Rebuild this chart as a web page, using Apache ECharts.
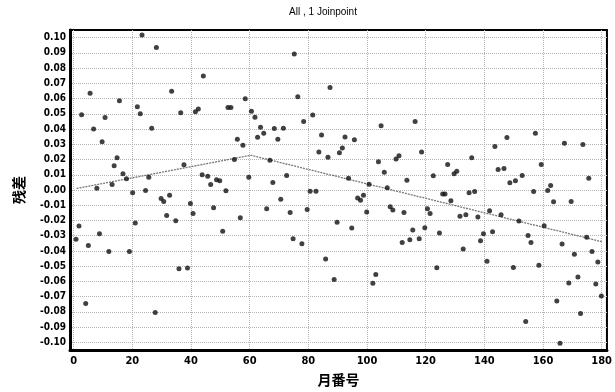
<!DOCTYPE html>
<html>
<head>
<meta charset="utf-8">
<script src="https://cdn.jsdelivr.net/npm/echarts@6/dist/echarts.min.js"></script>
<style>
  html, body { margin: 0; padding: 0; background: #fff; }
  #chart { width: 615px; height: 392px; }
</style>
</head>
<body>
<div id="chart"></div>
<script>
// residuals: [month, residual]
const residuals = [
  [0.8, -0.0324], [1.8, -0.0237], [2.7, 0.0494], [4.1, -0.0745], [5.0, -0.0365],
  [5.6, 0.0635], [6.8, 0.0401], [7.9, 0.0012], [8.8, -0.0287], [9.7, 0.0316],
  [10.7, 0.0476], [12.0, -0.0404], [13.1, 0.0036], [13.8, 0.0159], [14.8, 0.0212],
  [15.6, 0.0586], [16.8, 0.0107], [18.0, 0.0074], [19.0, -0.0404], [20.1, -0.0018],
  [21.0, -0.0216], [21.7, 0.0547], [22.7, 0.0501], [23.3, 0.1018], [24.5, -0.0004],
  [25.6, 0.0083], [26.6, 0.0406], [27.8, -0.0804], [28.2, 0.0935], [29.8, -0.0055],
  [30.7, -0.0075], [31.7, -0.0167], [32.7, -0.0034], [33.4, 0.0648], [34.8, -0.0202],
  [35.9, -0.0516], [36.5, 0.0507], [37.6, 0.0165], [38.8, -0.0512], [39.8, -0.0088],
  [40.7, -0.0154], [41.5, 0.0514], [42.5, 0.0532], [43.8, 0.0100], [44.2, 0.0748],
  [45.7, 0.0090], [46.7, 0.0036], [47.7, -0.0117], [48.7, 0.0067], [49.8, 0.0060],
  [50.8, -0.0270], [51.9, -0.0005], [52.6, 0.0541], [53.6, 0.0541], [54.8, 0.0200],
  [55.8, 0.0333], [56.8, -0.0182], [57.7, 0.0294], [58.5, 0.0599], [59.7, 0.0084],
  [60.6, 0.0516], [61.8, 0.0477], [62.7, 0.0346], [63.7, 0.0411], [64.8, 0.0372],
  [65.8, -0.0123], [66.9, 0.0195], [67.9, 0.0049], [68.4, 0.0403], [69.6, 0.0333],
  [70.6, -0.0060], [71.5, 0.0405], [72.6, 0.0095], [73.8, -0.0147], [74.8, -0.0320],
  [75.2, 0.0892], [76.4, 0.0612], [77.8, -0.0352], [78.4, 0.0449], [79.6, -0.0128],
  [80.6, -0.0008], [81.5, 0.0492], [82.6, -0.0008], [83.6, 0.0250], [84.5, 0.0361],
  [85.9, -0.0453], [86.7, 0.0215], [87.4, 0.0673], [88.8, -0.0588], [89.8, -0.0211],
  [90.6, 0.0244], [91.6, 0.0276], [92.5, 0.0348], [93.7, 0.0077], [94.8, -0.0250],
  [95.7, 0.0329], [96.8, -0.0053], [97.8, -0.0067], [98.8, -0.0034], [99.9, -0.0145],
  [100.7, 0.0038], [102.0, -0.0612], [103.0, -0.0555], [103.9, 0.0185], [104.8, 0.0422],
  [105.9, 0.0117], [106.9, 0.0014], [107.9, -0.0110], [108.8, -0.0132], [109.9, 0.0204],
  [110.9, 0.0224], [112.0, -0.0345], [112.6, -0.0147], [113.6, 0.0064], [114.6, -0.0326],
  [115.6, -0.0263], [116.4, 0.0449], [117.8, -0.0320], [118.6, 0.0250], [119.7, -0.0248],
  [120.6, -0.0123], [121.5, -0.0154], [122.6, 0.0093], [123.8, -0.0510], [124.7, -0.0283],
  [125.8, -0.0027], [126.6, -0.0027], [127.5, 0.0167], [128.6, -0.0071], [129.7, 0.0106],
  [130.6, 0.0123], [131.7, -0.0172], [132.8, -0.0388], [133.7, -0.0163], [134.8, -0.0018],
  [135.7, 0.0211], [136.7, -0.0010], [137.8, -0.0178], [138.7, -0.0333], [139.7, -0.0287],
  [140.9, -0.0468], [141.8, -0.0136], [142.8, -0.0274], [143.6, 0.0285], [144.7, 0.0134],
  [145.7, -0.0163], [146.7, 0.0141], [147.7, 0.0344], [148.7, 0.0047], [149.9, -0.0508],
  [150.6, 0.0060], [151.8, -0.0204], [152.9, 0.0095], [154.1, -0.0863], [154.9, -0.0298],
  [155.9, -0.0344], [156.8, -0.0010], [157.4, 0.0372], [158.6, -0.0494], [159.4, 0.0167],
  [160.4, -0.0234], [161.6, -0.0003], [162.6, 0.0030], [163.6, -0.0077], [164.7, -0.0728],
  [165.8, -0.1005], [166.5, -0.0355], [167.3, 0.0306], [168.8, -0.0610], [169.6, -0.0075],
  [170.7, -0.0422], [171.9, -0.0571], [172.8, -0.0811], [173.6, 0.0298], [174.9, -0.0310],
  [175.6, 0.0077], [176.7, -0.0403], [178.0, -0.0617], [178.7, -0.0473], [179.9, -0.0695]
]

// fitted joinpoint segments
const joinpointFit = [[1, 0.001], [60.4, 0.0228], [180, -0.0339]]

const xTicks = [0, 20, 40, 60, 80, 100, 120, 140, 160, 180]
const yTicks = [-0.10, -0.09, -0.08, -0.07, -0.06, -0.05, -0.04, -0.03, -0.02, -0.01,
  0.00, 0.01, 0.02, 0.03, 0.04, 0.05, 0.06, 0.07, 0.08, 0.09, 0.10]

const labelFont = { color: '#000', fontFamily: 'DejaVu Sans Condensed', fontWeight: 'bold', fontSize: 10 }
const gridLine = { show: true, lineStyle: { color: '#b4b4b4', type: 'dotted', width: 1 } }

const chart = echarts.init(document.getElementById('chart'))
chart.setOption({
  animation: false,
  backgroundColor: '#fff',
  title: {
    text: 'All , 1 Joinpoint',
    left: 318, top: 2, textAlign: 'center',
    textStyle: { fontFamily: 'Liberation Sans', fontWeight: 'normal', fontSize: 10, color: '#000' },
  },
  grid: {
    left: 70, right: 6, top: 30, bottom: 42,
    show: true, borderColor: '#000', borderWidth: 2, backgroundColor: '#fff',
  },
  xAxis: {
    type: 'value', min: -1.25, max: 181.8,
    name: '月番号', nameLocation: 'middle', nameGap: 23,
    nameTextStyle: { fontFamily: 'Noto Sans CJK SC', fontWeight: 'bold', fontSize: 14, color: '#000' },
    axisLine: { onZero: false, lineStyle: { color: '#000', width: 3 } },
    axisTick: { show: false, customValues: xTicks },
    axisLabel: { ...labelFont, fontSize: 11, margin: 6, customValues: xTicks },
    splitLine: gridLine,
  },
  yAxis: {
    type: 'value', min: -0.105, max: 0.105,
    name: '残差', nameLocation: 'middle', nameGap: 44,
    nameTextStyle: { fontFamily: 'Noto Sans CJK SC', fontWeight: 'bold', fontSize: 14, color: '#000' },
    axisLine: { onZero: false, lineStyle: { color: '#000', width: 3 } },
    axisTick: { show: false, customValues: yTicks },
    axisLabel: { ...labelFont, margin: 4, customValues: yTicks, formatter: (v) => v.toFixed(2) },
    splitLine: gridLine,
  },
  series: [
    {
      type: 'line', data: joinpointFit, symbol: 'none', z: 2,
      lineStyle: { color: '#777', width: 1.3, type: [2, 1] },
    },
    {
      type: 'scatter', data: residuals, symbol: 'circle', symbolSize: 5, z: 3,
      itemStyle: { color: '#111' },
    },
  ],
})
</script>
</body>
</html>
